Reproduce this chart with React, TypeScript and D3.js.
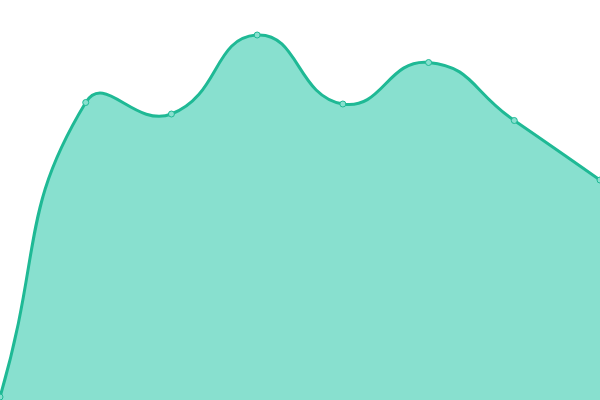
import React from "react";
import * as d3 from "d3";

const categories = ["A", "B", "C", "D", "E", "F", "G", "H"];
const values = [3, 297.5, 286, 365, 296, 337.5, 279.5, 220];

const W = 600;
const H = 400;
const LINE = "#1fb995";
const FILL = "#88e0cf";
const SMOOTH = 0.5;

// Chord-length weighted bezier smoothing (ECharts-style "smooth: true")
function smoothCurve(context: any) {
  let pts: [number, number][] = [];
  let lineState = NaN;
  const draw = (first: boolean) => {
    const n = pts.length;
    if (!n) return;
    if (first) context.moveTo(pts[0][0], pts[0][1]);
    else context.lineTo(pts[0][0], pts[0][1]);
    if (n === 1) return;
    const cps: { b: [number, number]; f: [number, number] }[] = pts.map((p, i) => {
      const prev = pts[Math.max(0, i - 1)];
      const next = pts[Math.min(n - 1, i + 1)];
      const vx = (next[0] - prev[0]) * SMOOTH;
      const vy = (next[1] - prev[1]) * SMOOTH;
      let d0 = Math.hypot(p[0] - prev[0], p[1] - prev[1]);
      let d1 = Math.hypot(next[0] - p[0], next[1] - p[1]);
      const s = d0 + d1;
      if (s !== 0) {
        d0 /= s;
        d1 /= s;
      }
      return {
        b: [p[0] - vx * d0, p[1] - vy * d0],
        f: [p[0] + vx * d1, p[1] + vy * d1],
      };
    });
    for (let i = 1; i < n; i++) {
      const c0 = cps[i - 1].f;
      const c1 = cps[i].b;
      context.bezierCurveTo(c0[0], c0[1], c1[0], c1[1], pts[i][0], pts[i][1]);
    }
  };
  return {
    areaStart() {
      lineState = 0;
    },
    areaEnd() {
      lineState = NaN;
    },
    lineStart() {
      pts = [];
    },
    lineEnd() {
      draw(!lineState);
      if (lineState || (lineState !== 0 && pts.length === 1)) context.closePath();
      lineState = 1 - lineState;
    },
    point(x: number, y: number) {
      pts.push([+x, +y]);
    },
  };
}

export default function App() {
  const x = d3.scalePoint<string>().domain(categories).range([0, W]);
  const y = d3.scaleLinear().domain([0, 400]).range([H, 0]);
  const area = d3
    .area<number>()
    .x((_, i) => x(categories[i]) as number)
    .y0(H)
    .y1((d) => y(d))
    .curve(smoothCurve as any);
  const line = d3
    .line<number>()
    .x((_, i) => x(categories[i]) as number)
    .y((d) => y(d))
    .curve(smoothCurve as any);
  return (
    <svg
      width={W}
      height={H}
      style={{ position: "fixed", left: 0, top: 0, background: "#fff" }}
    >
      <path d={area(values) || ""} fill={FILL} stroke="none" />
      <path d={line(values) || ""} fill="none" stroke={LINE} strokeWidth={3} />
      {values.map((v, i) => (
        <circle
          key={i}
          cx={x(categories[i]) as number}
          cy={y(v)}
          r={3}
          fill={FILL}
          stroke={LINE}
          strokeWidth={1}
        />
      ))}
    </svg>
  );
}
